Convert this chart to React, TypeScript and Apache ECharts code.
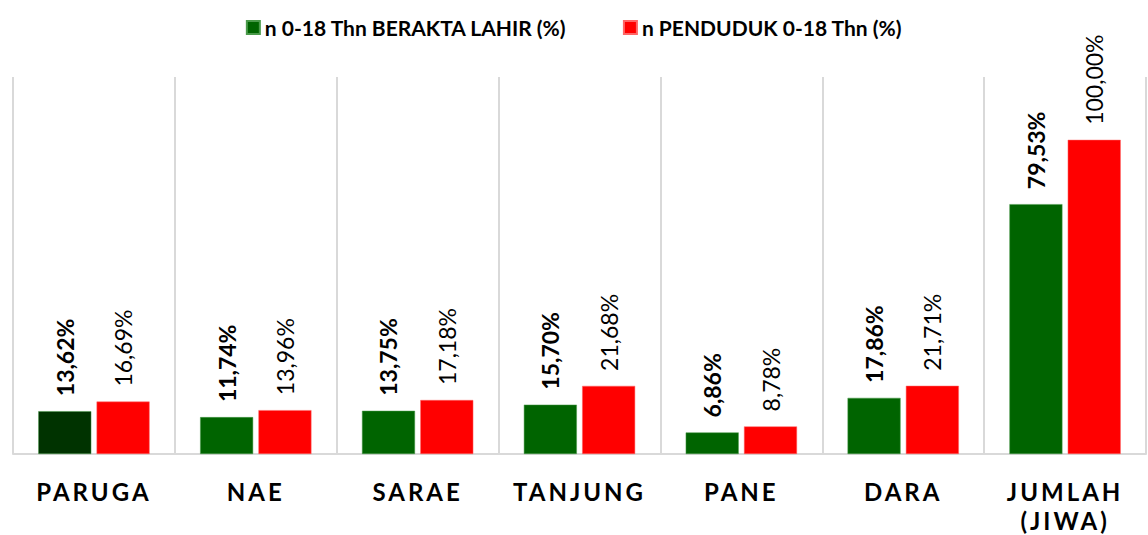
import React, { useEffect, useRef } from "react";
import * as echarts from "echarts";

const categories = ["PARUGA", "NAE", "SARAE", "TANJUNG", "PANE", "DARA", "JUMLAH\n(JIWA)"];
const seriesNames = ["n 0-18 Thn BERAKTA LAHIR (%)", "n PENDUDUK 0-18 Thn (%)"];
const beraktaValues = [13.62, 11.74, 13.75, 15.7, 6.86, 17.86, 79.53];
const pendudukValues = [16.69, 13.96, 17.18, 21.68, 8.78, 21.71, 100.0];

const fmt = (v: number) => v.toFixed(2).replace(".", ",") + "%";

export default function App() {
  const ref = useRef<HTMLDivElement>(null);
  useEffect(() => {
    if (!ref.current) return;
    const chart = echarts.init(ref.current, null, { renderer: "svg" });
    const font = "Lato, 'Open Sans', sans-serif";
    chart.setOption({
      animation: false,
      legend: {
        top: 12,
        left: "center",
        itemWidth: 13,
        itemHeight: 13,
        itemGap: 56,
        icon: "rect",
        textStyle: { fontFamily: font, fontSize: 21, fontWeight: "bold", color: "#000" },
        data: seriesNames,
      },
      grid: { left: 13, right: 2, top: 77, bottom: 79 },
      xAxis: {
        type: "category",
        data: categories,
        axisLine: { lineStyle: { color: "#d9d9d9", width: 2 } },
        axisTick: { show: false },
        splitLine: { show: true, lineStyle: { color: "#d9d9d9", width: 2 } },
        axisLabel: {
          fontFamily: font,
          fontSize: 24,
          fontWeight: "bold",
          color: "#000",
          margin: 23,
          lineHeight: 29,
          interval: 0,
        },
      },
      yAxis: {
        type: "value",
        min: 0,
        max: 120,
        show: false,
        splitLine: { show: false },
      },
      series: [
        {
          name: seriesNames[0],
          type: "bar",
          barWidth: 53,
          barGap: "10%",
          itemStyle: { color: "#006400", borderColor: "#4a9a4a", borderWidth: 0.5 },
          data: beraktaValues.map((v, i) =>
            i === 0 ? { value: v, itemStyle: { color: "#003300" } } : v
          ),
          label: {
            show: true,
            position: "top",
            rotate: 90,
            align: "left",
            verticalAlign: "middle",
            distance: 15,
            fontFamily: font,
            fontSize: 23,
            fontWeight: "bold",
            color: "#000",
            formatter: (p: any) => fmt(p.value),
          },
        },
        {
          name: seriesNames[1],
          type: "bar",
          barWidth: 53,
          itemStyle: { color: "#ff0000", borderColor: "#ff6666", borderWidth: 0.5 },
          data: pendudukValues,
          label: {
            show: true,
            position: "top",
            rotate: 90,
            align: "left",
            verticalAlign: "middle",
            distance: 15,
            fontFamily: font,
            fontSize: 23,
            fontWeight: "normal",
            color: "#000",
            formatter: (p: any) => fmt(p.value),
          },
        },
      ],
    });
    return () => chart.dispose();
  }, []);
  return (
    <>
      <style>{`body{margin:0} #chart svg text[style*="24px"]{letter-spacing:3px}`}</style>
      <div id="chart" ref={ref} style={{ width: 1148, height: 535 }} />
    </>
  );
}
